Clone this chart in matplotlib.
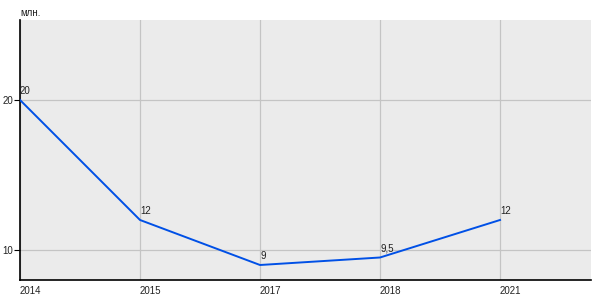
import matplotlib
matplotlib.use("Agg")
import matplotlib.pyplot as plt

years = ["2014", "2015", "2017", "2018", "2021"]
values = [20, 12, 9, 9.5, 12]
value_labels = ["20", "12", "9", "9,5", "12"]
y_ticks = [10, 20]
unit_label = "млн."

plt.rcParams['font.family'] = ['Liberation Sans', 'DejaVu Sans']

fig = plt.figure(figsize=(6, 3), dpi=100)
ax = fig.add_axes([20/600, 20/300, 571/600, 260/300])
ax.set_facecolor("#ebebeb")

x = list(range(len(years)))
ax.plot(x, values, color="#0050e6", linewidth=1.4, zorder=3)
for xi, v, lab in zip(x, values, value_labels):
    ax.annotate(lab, (xi, v), xytext=(0, 3), textcoords="offset points",
                ha="left", va="bottom", fontsize=7, color="#222222", zorder=4)

ax.set_xlim(0, 4.758)
ax.set_ylim(8, 25.33)
ax.set_xticks(x)
ax.set_xticklabels(years, ha="left", fontsize=7, color="#222222")
ax.set_yticks(y_ticks)
ax.set_yticklabels([str(t) for t in y_ticks], fontsize=7, color="#222222")
ax.grid(True, color="#c4c4c4", linewidth=0.9)
ax.set_axisbelow(True)
for s in ["top", "right"]:
    ax.spines[s].set_visible(False)
for s in ["left", "bottom"]:
    ax.spines[s].set_color("black")
    ax.spines[s].set_linewidth(1.2)
ax.tick_params(axis="x", length=0, pad=4)
ax.tick_params(axis="y", length=4, width=0.8, pad=1)
fig.text(20/600, 1 - 13/300, unit_label, fontsize=7, ha="left", va="center", color="#222222")

fig.savefig("out.png", dpi=100)
